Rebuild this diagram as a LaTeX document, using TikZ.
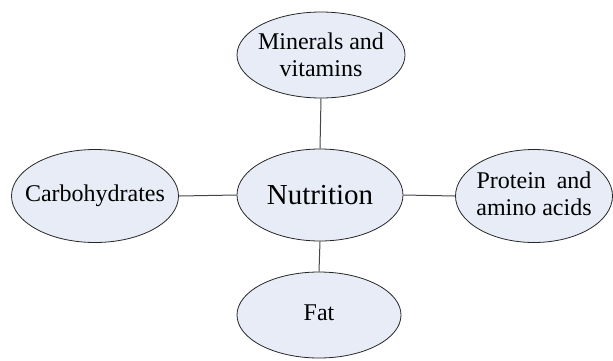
\documentclass[tikz,border=0pt]{standalone}
\usepackage{fontspec}
\setmainfont{Liberation Serif}
\usetikzlibrary{shapes.geometric}
\definecolor{blobfill}{RGB}{231,236,247}
\definecolor{linkcol}{RGB}{70,70,70}
\tikzset{
  blob/.style={ellipse, draw=black!85, line width=0.8pt, fill=blobfill, inner sep=0pt},
  lbl/.style={font=\fontsize{24}{27}\selectfont, align=center, inner sep=0pt},
  link/.style={draw=linkcol, line width=1pt}
}
\begin{document}
\begin{tikzpicture}[x=1pt,y=-1pt]
\useasboundingbox (0,0) rectangle (613,360);
\node[blob, minimum width=168pt, minimum height=86pt] (min) at (321,55) {};
\node[blob, minimum width=166pt, minimum height=92pt] (nut) at (320,195) {};
\node[blob, minimum width=167pt, minimum height=93pt] (carb) at (95,196) {};
\node[blob, minimum width=157pt, minimum height=93pt] (prot) at (534,196) {};
\node[blob, minimum width=164pt, minimum height=86pt] (fat) at (319,315) {};
\node[lbl] (minT) at (min.center) {Minerals and\\vitamins};
\node[lbl, font=\fontsize{29}{32}\selectfont] (nutT) at (nut.center) {Nutrition};
\node[lbl] (carbT) at (carb.center) {Carbohydrates};
\node[lbl] (protT) at ([yshift=2pt]prot.center) {Protein\hspace{0.45em}and\\amino acids};
\node[lbl] (fatT) at ([yshift=2pt]fat.center) {Fat};
\draw[link] (min.south) -- (nut.north);
\draw[link] (carb.east) -- (nut.west);
\draw[link] (nut.east) -- (prot.west);
\draw[link] (nut.south) -- (fat.north);
\end{tikzpicture}
\end{document}
